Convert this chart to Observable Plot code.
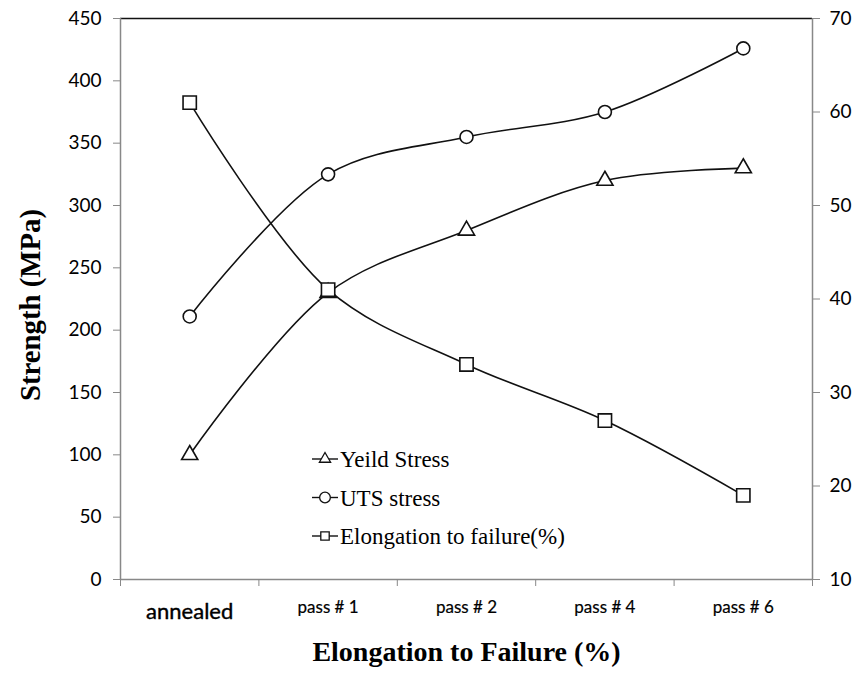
<!DOCTYPE html>
<html>
<head>
<meta charset="utf-8">
<script src="https://cdn.jsdelivr.net/npm/d3@7"></script>
<script src="https://cdn.jsdelivr.net/npm/@observablehq/plot@0.6"></script>
<style>
  html, body { margin: 0; padding: 0; background: #fff; }
  #chart { position: relative; width: 852px; height: 675px; }
</style>
</head>
<body>
<div id="chart"></div>
<script>
// ---- data ----
const categories = ["annealed", "pass # 1", "pass # 2", "pass # 4", "pass # 6"];
const yieldStress = [100, 230, 280, 320, 330];
const utsStress = [211, 325, 355, 375, 426];
const elongation = [61, 41, 33, 27, 19];
const leftTicks = [0, 50, 100, 150, 200, 250, 300, 350, 400, 450];
const rightTicks = [10, 20, 30, 40, 50, 60, 70];
const seriesNames = ["Yeild Stress", "UTS stress", "Elongation to failure(%)"];
const seriesSymbols = ["triangle", "circle", "square"];
const yTitle = "Strength (MPa)";
const xTitle = "Elongation to Failure (%)";

// right axis (10..70) mapped onto left axis domain (0..450)
const rMin = rightTicks[0], rMax = rightTicks[rightTicks.length - 1];
const lMax = leftTicks[leftTicks.length - 1];
const toLeft = v => (v - rMin) * lMax / (rMax - rMin);
const fromLeft = v => v * (rMax - rMin) / lMax + rMin;

const rows = [];
[yieldStress, utsStress, elongation.map(toLeft)].forEach((vals, s) => {
  vals.forEach((v, i) => rows.push({series: seriesNames[s], i, x: i + 0.5, y: v}));
});
const bands = d3.range(categories.length + 1);

const tickFont = "Lato, 'Open Sans', sans-serif";
const titleFont = "'Liberation Serif', 'Times New Roman', serif";

const marks = [
  Plot.ruleY([lMax], {stroke: "#111", strokeWidth: 1.5}),
  Plot.ruleY([0], {stroke: "#888", strokeWidth: 1.5}),
  Plot.ruleX([0], {stroke: "#888", strokeWidth: 1.5}),
  Plot.ruleX([categories.length], {stroke: "#888", strokeWidth: 1.5}),
  Plot.axisY(leftTicks, {anchor: "left", label: null, tickSize: 7, tickPadding: 12, stroke: "#888", fill: "#000",
    fontSize: 19, tickFormat: d => String(d)}),
  Plot.axisY(rightTicks.map(toLeft), {anchor: "right", label: null, tickSize: 7, tickPadding: 10, stroke: "#888", fill: "#000",
    fontSize: 19, tickFormat: d => String(Math.round(fromLeft(d)))}),
  Plot.axisX(bands, {anchor: "bottom", label: null, tickSize: 7, stroke: "#888", tickFormat: () => ""}),
  Plot.text(categories.slice(0, 1), {x: (d, i) => i + 0.5, frameAnchor: "bottom", dy: 39,
    fontSize: 22, fontFamily: tickFont, fill: "#000", stroke: "#000", strokeWidth: 0.4}),
  Plot.text(categories.slice(1), {x: (d, i) => i + 1.5, frameAnchor: "bottom", dy: 33,
    fontSize: 17, fontFamily: tickFont, fill: "#000", stroke: "#000", strokeWidth: 0.2}),
  Plot.line(rows, {x: "x", y: "y", z: "series", curve: "catmull-rom", stroke: "#111", strokeWidth: 1.6}),
  ...seriesNames.map((name, s) => Plot.dot(rows.filter(r => r.series === name), {
    x: "x", y: "y", symbol: seriesSymbols[s], r: [6, 6.5, 7.5][s], fill: "white", stroke: "#111", strokeWidth: 1.6
  })),
  Plot.text([xTitle], {frameAnchor: "bottom", textAnchor: "middle", dy: 81, fontSize: 28, fontWeight: "bold",
    fontFamily: titleFont, fill: "#000"})
];

const svg = Plot.plot({
  width: 852,
  height: 675,
  marginLeft: 120,
  marginRight: 40,
  marginTop: 18,
  marginBottom: 96,
  style: {fontFamily: tickFont, background: "white", overflow: "visible"},
  x: {domain: [0, categories.length], axis: null},
  y: {domain: [0, lMax], axis: null},
  marks
});

// y-axis title (stretched along its length like the reference)
d3.select(svg).append("text")
  .attr("transform", "translate(30,305) rotate(-90)")
  .attr("text-anchor", "middle").attr("dy", "0.35em")
  .attr("font-family", titleFont).attr("font-weight", "bold").attr("font-size", 29)
  .attr("textLength", 192).attr("lengthAdjust", "spacingAndGlyphs")
  .attr("fill", "#000").text(yTitle);

// legend
const legend = d3.select(svg).append("g").attr("transform", "translate(312,459)")
  .attr("text-anchor", "start");
const sym = {triangle: d3.symbolTriangle2, circle: d3.symbolCircle, square: d3.symbolSquare2};
seriesNames.forEach((name, s) => {
  const g = legend.append("g").attr("transform", `translate(0,${s * 38.5})`);
  g.append("line").attr("x1", 0).attr("x2", 26).attr("stroke", "#111").attr("stroke-width", 1.4);
  g.append("path").attr("transform", "translate(13,0)")
    .attr("d", d3.symbol(sym[seriesSymbols[s]], 90)())
    .attr("fill", "white").attr("stroke", "#111").attr("stroke-width", 1.3);
  g.append("text").attr("x", 28).attr("dy", "0.35em").attr("text-anchor", "start")
    .attr("font-family", titleFont).attr("font-size", 23).attr("fill", "#000").text(name);
});

document.getElementById("chart").appendChild(svg);
</script>
</body>
</html>
